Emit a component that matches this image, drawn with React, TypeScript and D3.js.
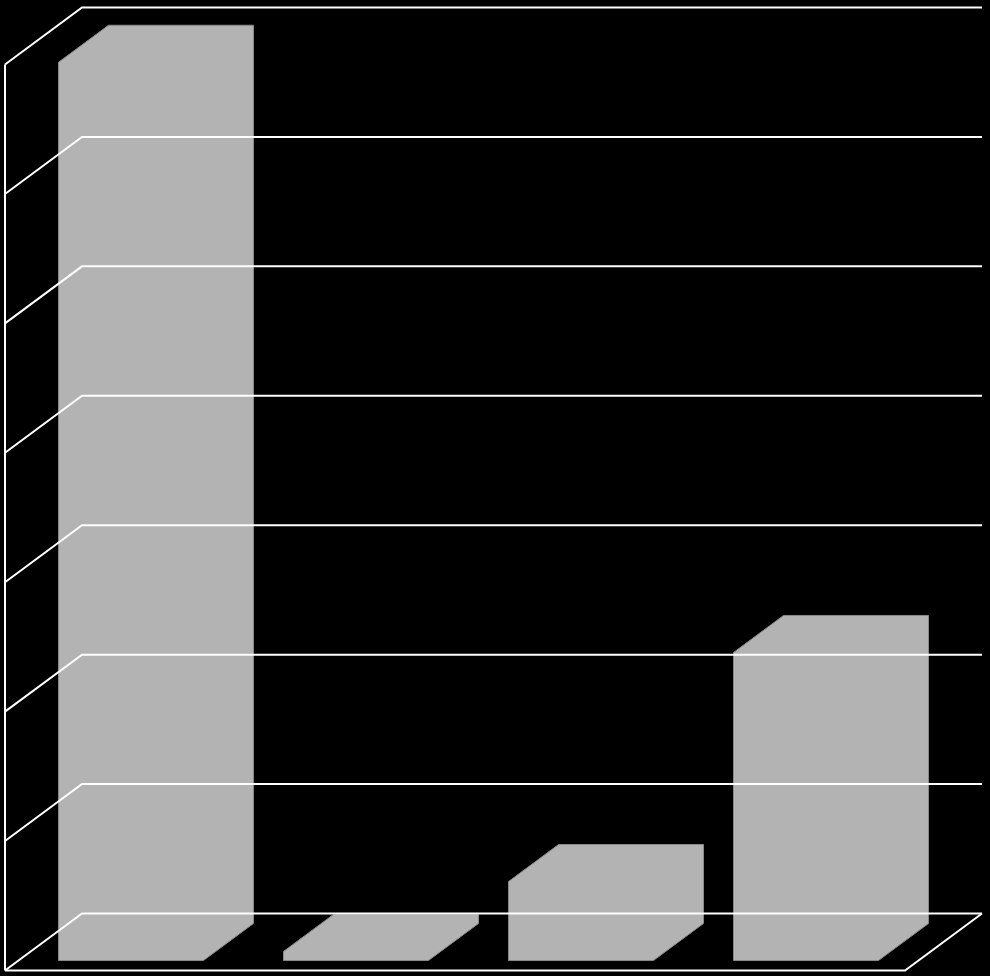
import React, { useEffect, useRef } from 'react';
import * as d3 from 'd3';

const categories = ['A', 'B', 'C', 'D'];
const values = [69.4, 0.7, 6.1, 23.8];
const yTicks = [0, 10, 20, 30, 40, 50, 60, 70];

const W = 990;
const H = 976;

const App: React.FC = () => {
    const ref = useRef<SVGSVGElement>(null);

    useEffect(() => {
        document.body.style.margin = '0';
        document.body.style.background = '#000';
        if (!ref.current) return;

        const svg = d3.select(ref.current);
        svg.selectAll('*').remove();

        // front plane of the 3d box, depth pushes up and right
        const depthX = 77;
        const depthY = -57;
        const x = d3.scaleBand<string>()
            .domain(categories)
            .range([5, 905])
            .paddingInner(0.356)
            .paddingOuter(0.178);
        const y = d3.scaleLinear().domain([0, 70]).range([970.5, 64.5]);

        const p = (px: number, py: number, d: number): [number, number] => [px + depthX * d, py + depthY * d];

        const barFront = 0.175;
        const barBack = 0.825;

        svg.append('rect').attr('width', W).attr('height', H).attr('fill', '#000');

        svg.append('g')
            .selectAll('polygon')
            .data(categories.map((c, i) => ({ c, v: values[i] })))
            .enter()
            .append('polygon')
            .attr('points', (d) => {
                const x0 = x(d.c)!;
                const x1 = x0 + x.bandwidth();
                const y0 = y(0);
                const yv = y(d.v);
                return [
                    p(x0, y0, barFront),
                    p(x0, yv, barFront),
                    p(x0, yv, barBack),
                    p(x1, yv, barBack),
                    p(x1, y0, barBack),
                    p(x1, y0, barFront),
                ].map((pt) => pt.join(',')).join(' ');
            })
            .attr('fill', '#b3b3b3')
            .attr('stroke', '#8a8a8a')
            .attr('stroke-width', 1);

        const line = d3.line();
        const grid = svg.append('g')
            .attr('fill', 'none')
            .attr('stroke', '#fff')
            .attr('stroke-width', 2);

        // back wall + left wall gridlines
        yTicks.forEach((t) => {
            grid.append('path').attr('d', line([
                p(5, y(t), 0),
                p(5, y(t), 1),
                p(905, y(t), 1),
            ]));
        });

        // left axis
        grid.append('path').attr('d', line([[5, y(0)], [5, y(70)]]));

        // floor front edge
        grid.append('path').attr('d', line([
            p(5, y(0), 0),
            p(905, y(0), 0),
            p(905, y(0), 1),
        ]));
    }, []);

    return <svg ref={ref} width={W} height={H} style={{ display: 'block' }}></svg>;
};

export default App;
